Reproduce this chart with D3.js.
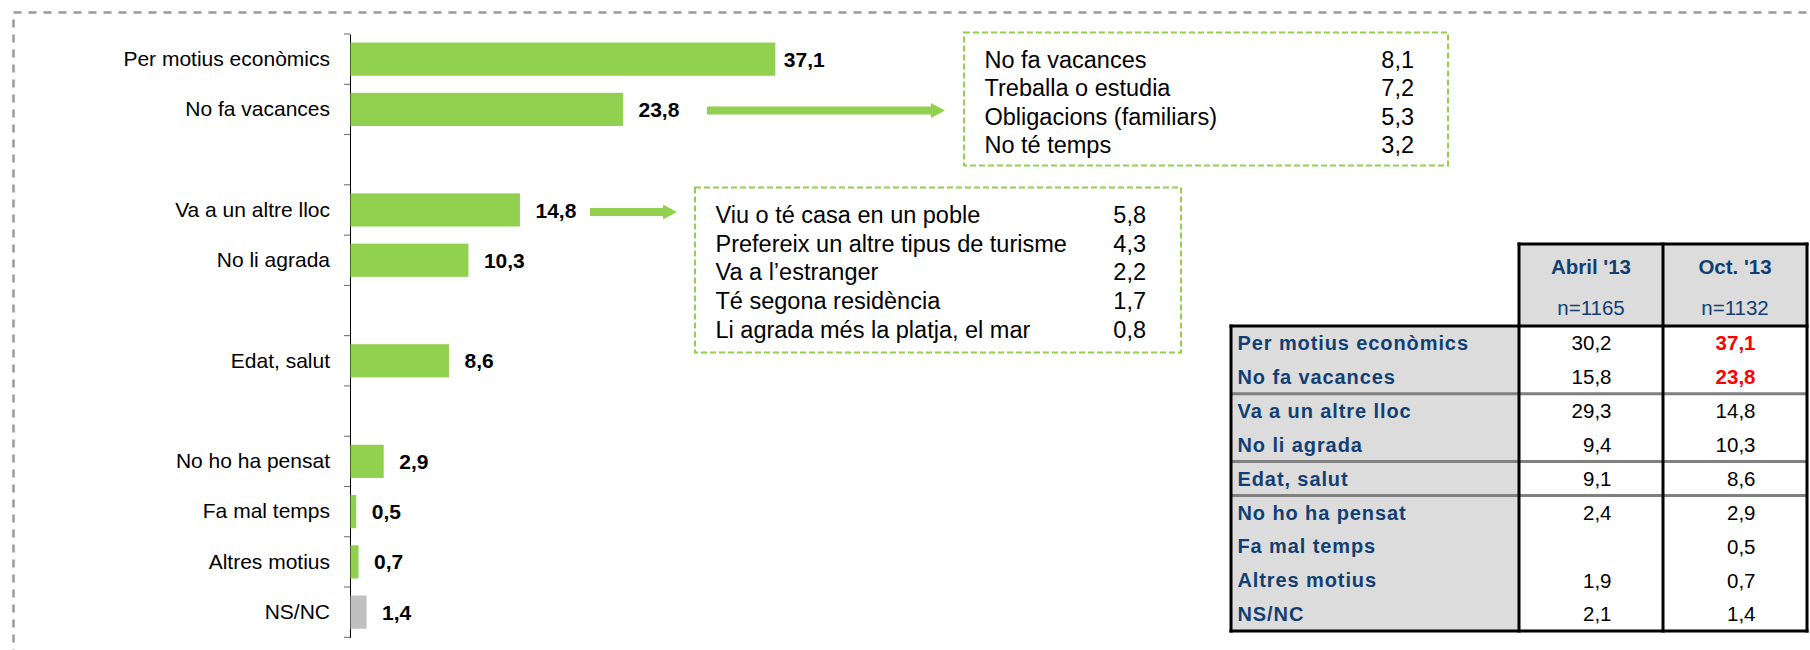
<!DOCTYPE html>
<html>
<head>
<meta charset="utf-8">
<script src="https://cdn.jsdelivr.net/npm/d3@7"></script>
<style>
  body { margin: 0; background: #fff; }
  svg { display: block; font-family: "Liberation Sans", Arial, sans-serif; }
</style>
</head>
<body>
<div class="canvas"></div>
<script>
// reasons (Oct. '13) with group ids, gaps are drawn between groups
const reasons = ['Per motius econòmics', 'No fa vacances', 'Va a un altre lloc', 'No li agrada',
    'Edat, salut', 'No ho ha pensat', 'Fa mal temps', 'Altres motius', 'NS/NC'];
const groups = [1, 1, 2, 2, 3, 4, 4, 4, 4];
const octValues = [37.1, 23.8, 14.8, 10.3, 8.6, 2.9, 0.5, 0.7, 1.4];
const aprValues = [30.2, 15.8, 29.3, 9.4, 9.1, 2.4, null, 1.9, 2.1];

// comparison table header
const waves = ["Abril '13", "Oct. '13"];
const samples = ['n=1165', 'n=1132'];

// breakdown boxes
const noVacLabels = ['No fa vacances', 'Treballa o estudia', 'Obligacions (familiars)', 'No té temps'];
const noVacValues = [8.1, 7.2, 5.3, 3.2];
const elsewhereLabels = ['Viu o té casa en un poble', 'Prefereix un altre tipus de turisme',
    'Va a l’estranger', 'Té segona residència', 'Li agrada més la platja, el mar'];
const elsewhereValues = [5.8, 4.3, 2.2, 1.7, 0.8];

const green = '#92d050';
const navy = '#123f73';
const locale = d3.formatLocale({ decimal: ',', thousands: '.', grouping: [3], currency: ['', '€'] });
const fmt = locale.format('.1f');

const svg = d3.select('.canvas')
    .append('svg')
    .attr('width', 1810)
    .attr('height', 650);

// outer dashed frame
svg.append('rect')
    .attr('x', 13.5).attr('y', 12.5)
    .attr('width', 1850).attr('height', 700)
    .attr('fill', 'none')
    .attr('stroke', '#9a9a9a')
    .attr('stroke-width', 2.5)
    .attr('stroke-dasharray', '8,7');

// build slots with an empty slot between groups
const slots = [];
reasons.forEach((r, i) => {
    if (i > 0 && groups[i] !== groups[i - 1]) slots.push('gap' + i);
    slots.push(r);
});

const y = d3.scaleBand()
    .domain(slots)
    .range([34, 637.3]);

const x = d3.scaleLinear()
    .domain([0, 40])
    .range([350, 808]);

const graph = svg.append('g');

// axis with labels
const yAxis = d3.axisLeft(y)
    .tickSize(0)
    .tickPadding(20)
    .tickFormat(d => d.startsWith('gap') ? '' : d);

const yAxisGroup = graph.append('g')
    .attr('transform', `translate(${x(0)}, 0)`)
    .call(yAxis);

yAxisGroup.select('.domain').attr('stroke', '#000');
yAxisGroup.selectAll('text')
    .attr('font-size', 21)
    .attr('font-family', '"Liberation Sans", Arial, sans-serif')
    .attr('fill', '#000');

// tick marks at band boundaries
const bounds = slots.map(s => y(s)).concat([y.range()[1]]);
graph.selectAll('line.bound')
    .data(bounds)
    .enter()
    .append('line')
    .attr('x1', x(0) - 6).attr('x2', x(0))
    .attr('y1', d => d).attr('y2', d => d)
    .attr('stroke', '#666')
    .attr('stroke-width', 1);

const barH = y.bandwidth() * 0.66;
const barOff = (y.bandwidth() - barH) / 2;

graph.selectAll('rect.bar')
    .data(reasons)
    .enter()
    .append('rect')
    .attr('x', x(0) + 0.5)
    .attr('y', d => y(d) + barOff)
    .attr('width', (d, i) => x(octValues[i]) - x(0))
    .attr('height', barH)
    .attr('fill', d => d === 'NS/NC' ? '#c0c0c0' : green);

graph.selectAll('text.val')
    .data(reasons)
    .enter()
    .append('text')
    .attr('x', (d, i) => x(octValues[i]) + (i === 0 ? 9 : 16))
    .attr('y', d => y(d) + y.bandwidth() / 2)
    .attr('dy', '0.36em')
    .attr('font-size', 21)
    .attr('font-weight', 'bold')
    .text((d, i) => fmt(octValues[i]));

// arrows to the breakdown boxes
function arrow(x1, x2, yc) {
    const t = 4, h = 7.5, hl = 14;
    const pts = [[x1, yc - t], [x2 - hl, yc - t], [x2 - hl, yc - h], [x2, yc],
        [x2 - hl, yc + h], [x2 - hl, yc + t], [x1, yc + t]];
    svg.append('polygon')
        .attr('points', pts.map(p => p.join(',')).join(' '))
        .attr('fill', green);
}
arrow(707, 945, y('No fa vacances') + y.bandwidth() / 2 + 1);
arrow(590, 677, y('Va a un altre lloc') + y.bandwidth() / 2 + 2);

// breakdown boxes
function box(bx, by, bw, bh, labels, values, textX, valX, rowTop, rowStep) {
    const g = svg.append('g');
    g.append('rect')
        .attr('x', bx).attr('y', by)
        .attr('width', bw).attr('height', bh)
        .attr('fill', 'none')
        .attr('stroke', green)
        .attr('stroke-width', 2)
        .attr('stroke-dasharray', '6,3');
    const rows = d3.scalePoint().domain(labels).range([rowTop, rowTop + rowStep * (labels.length - 1)]);
    g.selectAll('text.lab')
        .data(labels)
        .enter()
        .append('text')
        .attr('x', textX)
        .attr('y', d => rows(d))
        .attr('dy', '0.36em')
        .attr('font-size', 23.5)
        .text(d => d);
    g.selectAll('text.num')
        .data(values)
        .enter()
        .append('text')
        .attr('x', valX)
        .attr('y', (d, i) => rows(labels[i]))
        .attr('dy', '0.36em')
        .attr('text-anchor', 'end')
        .attr('font-size', 23.5)
        .text(d => fmt(d));
}
box(964, 32.5, 484, 133, noVacLabels, noVacValues, 984.5, 1414, 59.5, 28.5);
box(695, 187.5, 486, 165, elsewhereLabels, elsewhereValues, 715.5, 1146, 214.5, 28.7);

// comparison table
const tbl = svg.append('g');
const colX = d3.scaleBand().domain(waves).range([1519, 1807]);
const rowY = d3.scaleBand().domain(reasons).range([326, 631]);
const tLeft = 1231, hTop = 244;

tbl.append('rect')
    .attr('x', colX.range()[0]).attr('y', hTop)
    .attr('width', colX.range()[1] - colX.range()[0]).attr('height', rowY.range()[0] - hTop)
    .attr('fill', '#dcdcdc');
tbl.append('rect')
    .attr('x', tLeft).attr('y', rowY.range()[0])
    .attr('width', colX.range()[0] - tLeft).attr('height', rowY.range()[1] - rowY.range()[0])
    .attr('fill', '#dcdcdc');

// group separators
const seps = reasons.filter((d, i) => i > 0 && groups[i] !== groups[i - 1]);
tbl.selectAll('line.sep')
    .data(seps)
    .enter()
    .append('line')
    .attr('x1', tLeft).attr('x2', colX.range()[1])
    .attr('y1', d => rowY(d)).attr('y2', d => rowY(d))
    .attr('stroke', '#808080')
    .attr('stroke-width', 3);

// black borders
const blk = (x1, y1, x2, y2) => tbl.append('line')
    .attr('x1', x1).attr('y1', y1).attr('x2', x2).attr('y2', y2)
    .attr('stroke', '#000').attr('stroke-width', 3).attr('stroke-linecap', 'square');
blk(colX.range()[0], hTop, colX.range()[1], hTop);
blk(tLeft, rowY.range()[0], colX.range()[1], rowY.range()[0]);
blk(tLeft, rowY.range()[1], colX.range()[1], rowY.range()[1]);
blk(tLeft, rowY.range()[0], tLeft, rowY.range()[1]);
waves.forEach(w => blk(colX(w), hTop, colX(w), rowY.range()[1]));
blk(colX.range()[1], hTop, colX.range()[1], rowY.range()[1]);

// header text
tbl.selectAll('text.wave')
    .data(waves)
    .enter()
    .append('text')
    .attr('x', d => colX(d) + colX.bandwidth() / 2)
    .attr('y', 267)
    .attr('dy', '0.36em')
    .attr('text-anchor', 'middle')
    .attr('font-size', 20.5)
    .attr('font-weight', 'bold')
    .attr('fill', navy)
    .text(d => d);
tbl.selectAll('text.n')
    .data(samples)
    .enter()
    .append('text')
    .attr('x', (d, i) => colX(waves[i]) + colX.bandwidth() / 2)
    .attr('y', 308)
    .attr('dy', '0.36em')
    .attr('text-anchor', 'middle')
    .attr('font-size', 20.5)
    .attr('fill', navy)
    .text(d => d);

// row labels
tbl.selectAll('text.row')
    .data(reasons)
    .enter()
    .append('text')
    .attr('x', tLeft + 6.5)
    .attr('y', d => rowY(d) + rowY.bandwidth() / 2)
    .attr('dy', '0.36em')
    .attr('font-size', 20)
    .attr('font-weight', 'bold')
    .attr('letter-spacing', 0.9)
    .attr('fill', navy)
    .text(d => d);

// values (empty cell where there is no value)
[aprValues, octValues].forEach((vals, c) => {
    tbl.selectAll('text.v' + c)
        .data(vals)
        .enter()
        .append('text')
        .attr('x', colX(waves[c]) + colX.bandwidth() / 2 + 20.5)
        .attr('y', (d, i) => rowY(reasons[i]) + rowY.bandwidth() / 2)
        .attr('dy', '0.36em')
        .attr('text-anchor', 'end')
        .attr('font-size', 20.5)
        .attr('font-weight', (d, i) => c === 1 && groups[i] === 1 ? 'bold' : 'normal')
        .attr('fill', (d, i) => c === 1 && groups[i] === 1 ? '#ff0000' : '#000')
        .text(d => d === null ? '' : fmt(d));
});
</script>
</body>
</html>
